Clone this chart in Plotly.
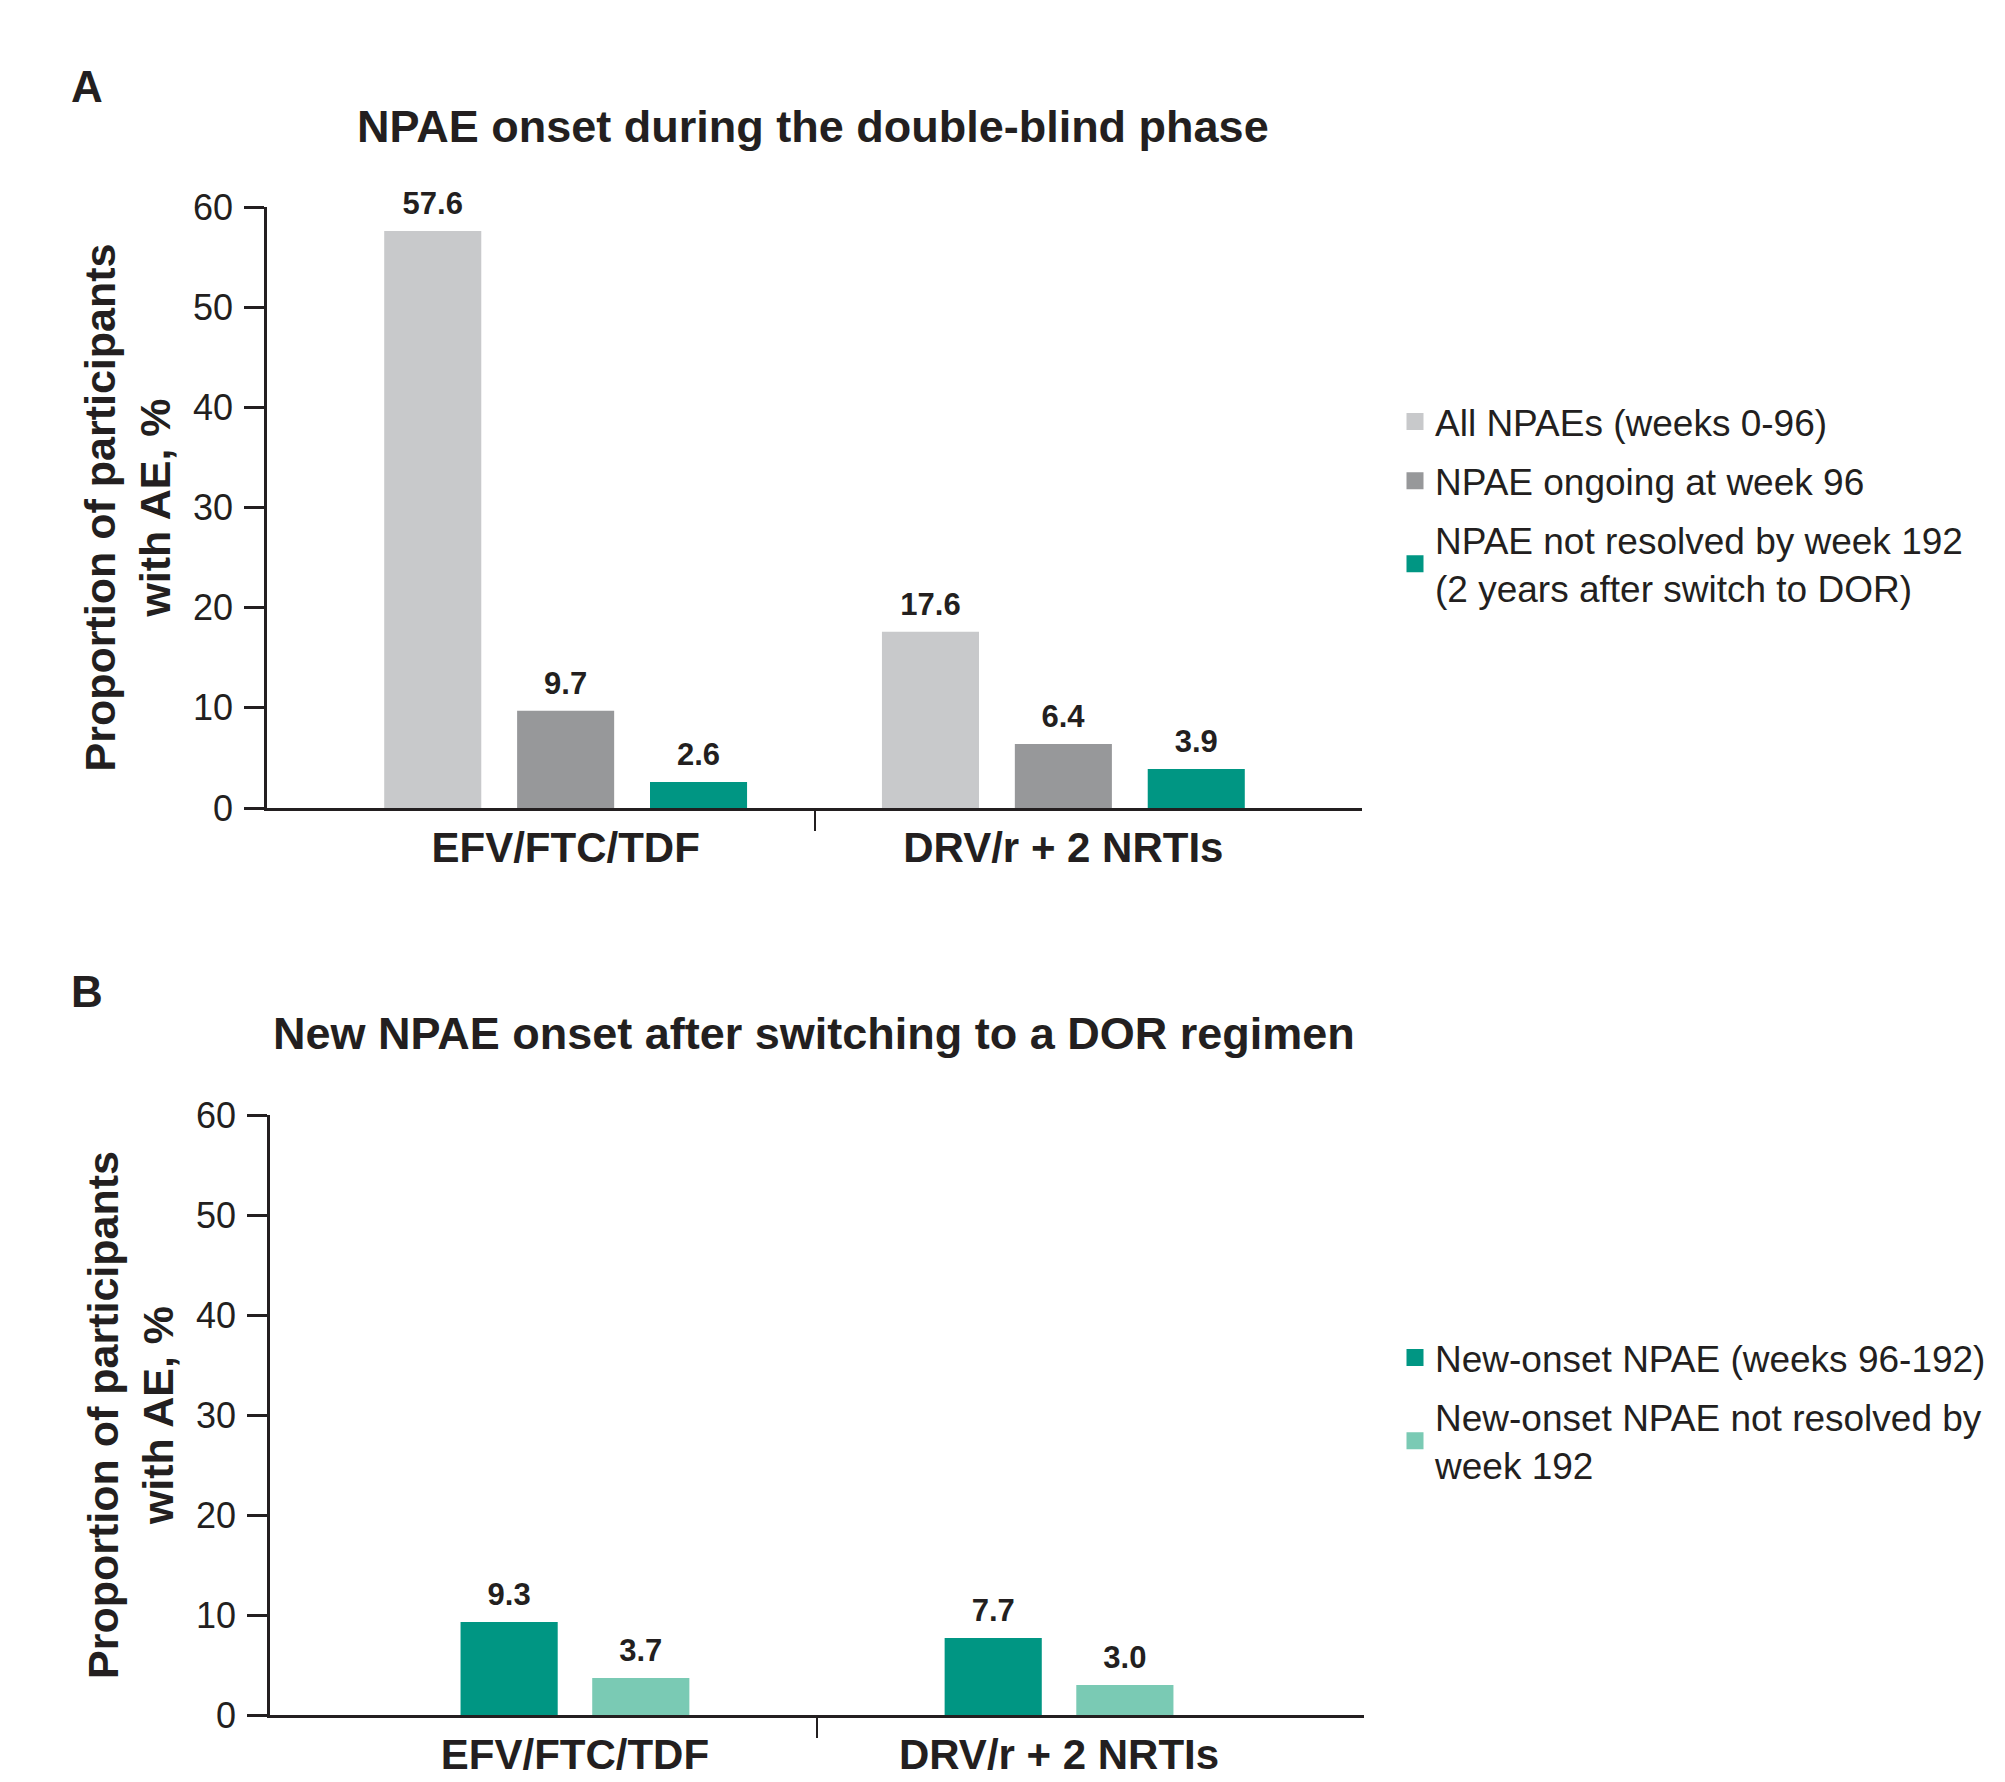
import plotly.graph_objects as go

# ---------------- data ----------------
categories = ["EFV/FTC/TDF", "DRV/r + 2 NRTIs"]
y_ticks = [0, 10, 20, 30, 40, 50, 60]

a_labels = ["All NPAEs (weeks 0-96)",
            "NPAE ongoing at week 96",
            "NPAE not resolved by week 192<br>(2 years after switch to DOR)"]
a_all_npae = [57.6, 17.6]
a_ongoing_wk96 = [9.7, 6.4]
a_not_resolved_wk192 = [2.6, 3.9]

b_labels = ["New-onset NPAE (weeks 96-192)",
            "New-onset NPAE not resolved by<br>week 192"]
b_new_onset = [9.3, 7.7]
b_new_not_resolved = [3.7, 3.0]

# ---------------- styles ----------------
FONT = "Liberation Sans, Arial, Helvetica, sans-serif"
INK = "#231f20"
a_colors = ["#c8c9cb", "#97989a", "#009683"]
b_colors = ["#009683", "#7acab4"]

W, H = 2005, 1782
OFF = 8  # page body margin


def px(x):
    return (x - OFF) / W


def py(y):
    return 1 - (y - OFF) / H


xa = [px(267), px(1362)]
xb = [px(270), px(1364)]
ya = [py(808), py(207)]
yb = [py(1715), py(1115)]

fig = go.Figure()
xpos = list(range(len(categories)))


def add_group(series, labels, colors, xaxis, yaxis, legend, bar_w, pitch):
    n = len(series)
    for i, (vals, lab, col) in enumerate(zip(series, labels, colors)):
        centre = (i - (n - 1) / 2) * pitch
        fig.add_trace(go.Bar(
            x=xpos, y=vals, name=lab,
            marker=dict(color=col, line=dict(width=0)),
            width=bar_w, offset=centre - bar_w / 2,
            text=vals,
            texttemplate="<span style='font-size:31px'>%{y:.1f}</span><br>&nbsp;",
            textposition="outside",
            textfont=dict(family=FONT, size=9, color=INK, weight="bold"),
            constraintext="none",
            cliponaxis=False,
            xaxis=xaxis, yaxis=yaxis, showlegend=False,
            hoverinfo="skip",
        ))
        # legend entry (bigger swatch via an outline of the same colour)
        fig.add_trace(go.Bar(
            x=[None], y=[None], name=lab,
            marker=dict(color=col, line=dict(color=col, width=5)),
            xaxis=xaxis, yaxis=yaxis, legend=legend,
            legendgroup=legend + str(i), hoverinfo="skip",
        ))


add_group([a_all_npae, a_ongoing_wk96, a_not_resolved_wk192], a_labels, a_colors,
          "x", "y", "legend", 0.195, 0.267)
add_group([b_new_onset, b_new_not_resolved], b_labels, b_colors,
          "x2", "y2", "legend2", 0.2007, 0.272)

yaxis_common = dict(
    range=[0, 60], tickvals=y_ticks, ticks="outside", ticklen=20, tickwidth=2.5,
    tickcolor=INK, showline=True, linewidth=2.5, linecolor=INK, showgrid=False,
    zeroline=False, tickfont=dict(family=FONT, size=36, color=INK),
    ticklabelstandoff=4, automargin=False,
    title=dict(text="Proportion of participants<br>with AE, %", standoff=9,
               font=dict(family=FONT, size=43, color=INK, weight="bold")),
)
xaxis_common = dict(
    tickvals=xpos, ticktext=categories, ticks="", showline=True, linewidth=2.5,
    linecolor=INK, showgrid=False, zeroline=False,
    tickfont=dict(family=FONT, size=42, color=INK, weight="bold"),
    ticklabelstandoff=1, automargin=False,
    minor=dict(tickvals=[i + 0.5 for i in range(len(categories) - 1)],
               ticks="outside", ticklen=20, tickwidth=2, tickcolor=INK),
)

ann_font = dict(family=FONT, color=INK, weight="bold")
fig.update_layout(
    width=W, height=H, barmode="overlay",
    paper_bgcolor="white", plot_bgcolor="white",
    margin=dict(l=0, r=0, t=0, b=0),
    font=dict(family=FONT, color=INK),
    xaxis=dict(domain=xa, range=[-0.6, 1.6], anchor="y", **xaxis_common),
    yaxis=dict(domain=ya, anchor="x", **yaxis_common),
    xaxis2=dict(domain=xb, range=[-0.63, 1.63], anchor="y2", **xaxis_common),
    yaxis2=dict(domain=yb, anchor="x2", **yaxis_common),
    legend=dict(x=px(1395), y=py(391), xanchor="left", yanchor="top",
                font=dict(family=FONT, size=37, color=INK),
                traceorder="grouped", tracegroupgap=8, bgcolor="rgba(0,0,0,0)"),
    legend2=dict(x=px(1395), y=py(1327), xanchor="left", yanchor="top",
                 font=dict(family=FONT, size=37, color=INK),
                 traceorder="grouped", tracegroupgap=8, bgcolor="rgba(0,0,0,0)"),
    annotations=[
        dict(text="A", x=px(87), y=py(87), xref="paper", yref="paper",
             xanchor="center", yanchor="middle", showarrow=False,
             font=dict(size=44, **ann_font)),
        dict(text="NPAE onset during the double-blind phase", x=px(813), y=py(127),
             xref="paper", yref="paper", xanchor="center", yanchor="middle",
             showarrow=False, font=dict(size=45, **ann_font)),
        dict(text="B", x=px(87), y=py(991), xref="paper", yref="paper",
             xanchor="center", yanchor="middle", showarrow=False,
             font=dict(size=44, **ann_font)),
        dict(text="New NPAE onset after switching to a DOR regimen", x=px(814), y=py(1033),
             xref="paper", yref="paper", xanchor="center", yanchor="middle",
             showarrow=False, font=dict(size=45, **ann_font)),
    ],
)

fig.write_html("out.html")
